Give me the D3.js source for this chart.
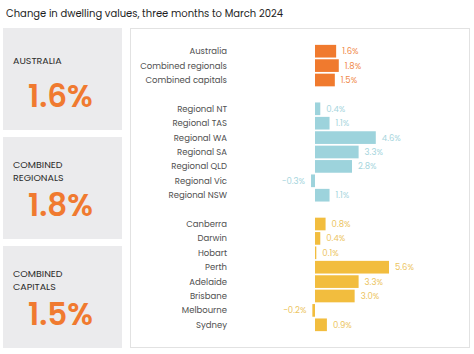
<!DOCTYPE html>
<html>
<head>
<meta charset="utf-8">
<script src="https://cdn.jsdelivr.net/npm/d3@7"></script>
<style>
  body { margin: 0; background: #fff; }
  svg { display: block; font-family: "Poppins", "Inter", "Open Sans", sans-serif; }
</style>
</head>
<body>
<div id="chart"></div>
<script>
var width = 474, height = 354;

// headline tiles
var tileLabels = [["AUSTRALIA"], ["COMBINED", "REGIONALS"], ["COMBINED", "CAPITALS"]];
var tileValues = ["1.6%", "1.8%", "1.5%"];

// bar groups
var nationalNames = ["Australia", "Combined regionals", "Combined capitals"];
var nationalValues = [1.6, 1.8, 1.5];
var regionalNames = ["Regional NT", "Regional TAS", "Regional WA", "Regional SA", "Regional QLD", "Regional Vic", "Regional NSW"];
var regionalValues = [0.4, 1.1, 4.6, 3.3, 2.8, -0.3, 1.1];
var capitalNames = ["Canberra", "Darwin", "Hobart", "Perth", "Adelaide", "Brisbane", "Melbourne", "Sydney"];
var capitalValues = [0.8, 0.4, 0.1, 5.6, 3.3, 3.0, -0.2, 0.9];

var groupColors = { national: "#f07a2e", regional: "#9dd3dc", capital: "#f2bd3e" };
var labelColors = { national: "#f0894a", regional: "#a6d5dd", capital: "#ecc45e" };

var rows = [];
nationalNames.forEach(function(n, i) { rows.push({name: n, value: nationalValues[i], group: "national"}); });
rows.push({name: "gap1", gap: true});
regionalNames.forEach(function(n, i) { rows.push({name: n, value: regionalValues[i], group: "regional"}); });
rows.push({name: "gap2", gap: true});
capitalNames.forEach(function(n, i) { rows.push({name: n, value: capitalValues[i], group: "capital"}); });

var svg = d3.select("#chart").append("svg")
    .attr("width", width)
    .attr("height", height);

svg.append("text")
    .attr("x", 6)
    .attr("y", 17)
    .style("font-size", "10px")
    .style("fill", "#1e1e1e")
    .text("Change in dwelling values, three months to March 2024");

// left tiles
var tileTop = [28, 137, 246];
var tile = svg.selectAll(".tile")
  .data(tileValues)
  .enter().append("g")
    .attr("class", "tile")
    .attr("transform", function(d, i) { return "translate(3," + tileTop[i] + ")"; });

tile.append("rect")
    .attr("width", 119)
    .attr("height", 102)
    .style("fill", "#ebebed");

tile.each(function(d, i) {
  var g = d3.select(this);
  var lines = tileLabels[i];
  var y0 = lines.length == 1 ? 36 : 31;
  lines.forEach(function(l, j) {
    g.append("text")
        .attr("x", 10)
        .attr("y", y0 + j * 12.5)
        .style("font-size", "9.5px")
        .style("fill", "#2b2b2b")
        .text(l);
  });
  g.append("text")
      .attr("x", 25)
      .attr("y", 79)
      .style("font-size", "31px")
      .style("font-weight", "600")
      .style("fill", "#f07a30")
      .text(d);
});

// right panel
svg.append("rect")
    .attr("x", 130.5)
    .attr("y", 28.5)
    .attr("width", 339)
    .attr("height", 319)
    .style("fill", "#fff")
    .style("stroke", "#e2e2e2");

var y = d3.scaleBand()
    .domain(rows.map(function(d) { return d.name; }))
    .range([44, 332])
    .paddingInner(0.12)
    .paddingOuter(0.06);

var x = d3.scaleLinear()
    .domain([0, 5.6])
    .range([315, 389]);

var bars = rows.filter(function(d) { return !d.gap; });

svg.selectAll(".cat")
  .data(bars)
  .enter().append("text")
    .attr("class", "cat")
    .attr("x", 227)
    .attr("y", function(d) { return y(d.name) + y.bandwidth() / 2; })
    .attr("dy", "0.35em")
    .attr("text-anchor", "end")
    .style("font-size", "8.5px")
    .style("fill", "#505050")
    .text(function(d) { return d.name; });

svg.selectAll(".bar")
  .data(bars)
  .enter().append("rect")
    .attr("class", "bar")
    .attr("x", function(d) { return x(Math.min(0, d.value)); })
    .attr("y", function(d) { return y(d.name); })
    .attr("width", function(d) { return Math.max(1, Math.abs(x(d.value) - x(0))); })
    .attr("height", y.bandwidth())
    .style("fill", function(d) { return groupColors[d.group]; });

svg.selectAll(".val")
  .data(bars)
  .enter().append("text")
    .attr("class", "val")
    .attr("x", function(d) { return d.value < 0 ? x(d.value) - 6 : x(d.value) + 6; })
    .attr("y", function(d) { return y(d.name) + y.bandwidth() / 2; })
    .attr("dy", "0.35em")
    .attr("text-anchor", function(d) { return d.value < 0 ? "end" : "start"; })
    .style("font-size", "8.5px")
    .style("fill", function(d) { return labelColors[d.group]; })
    .text(function(d) { return (d.value < 0 ? "\u2212" : "") + Math.abs(d.value).toFixed(1) + "%"; });
</script>
</body>
</html>
